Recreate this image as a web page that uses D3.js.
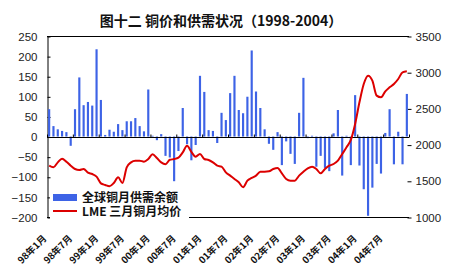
<!DOCTYPE html>
<html>
<head>
<meta charset="utf-8">
<script src="https://cdn.jsdelivr.net/npm/d3@7"></script>
<style>
  body { margin: 0; background: #fff; }
  svg { display: block; }
</style>
</head>
<body>
<svg id="chart" width="450" height="274"></svg>
<script>
// monthly data, Jan 1998 .. Dec 2004
var supplyBalance = [68, 26, 18, 14, 11, -23, 68, 147, 78, 86, 77, 217,
                     91, 4, 17, 12, 31, 16, 38, 38, 46, 26, 13, 117,
                     2, -9, 6, -48, -52, -111, -36, 71, -19, -59, -21, 151,
                     111, 16, 14, -16, 59, 41, 108, 151, 66, 58, 99, 214,
                     112, 71, 18, -18, -33, 11, -71, -12, -43, -68, 59, 146,
                     -4, 2, -75, -48, -78, -86, 8, 66, -97, 2, -71, 103,
                     -72, -131, -197, -127, -68, -92, 9, 68, -69, 12, -69, 106];
var lmePrice = [1709, 1686, 1755, 1805, 1764, 1709, 1663, 1649, 1663, 1612, 1594, 1557,
                1465, 1442, 1425, 1470, 1548, 1470, 1686, 1755, 1778, 1778, 1764, 1801,
                1866, 1815, 1755, 1730, 1790, 1800, 1820, 1893, 1985, 1900, 1833, 1870,
                1801, 1787, 1755, 1709, 1695, 1617, 1571, 1525, 1479, 1410, 1502, 1539,
                1571, 1626, 1626, 1631, 1663, 1677, 1603, 1525, 1502, 1502, 1571, 1626,
                1672, 1695, 1663, 1603, 1663, 1709, 1732, 1778, 1870, 1962, 2064, 2285,
                2584, 2837, 2952, 2883, 2676, 2653, 2736, 2791, 2837, 2906, 2998, 3012];
var monthLabels = ["98年1月", "98年7月", "99年1月", "99年7月", "00年1月", "00年7月", "01年1月",
                   "01年7月", "02年1月", "02年7月", "03年1月", "03年7月", "04年1月", "04年7月"];
var leftTicks = [250, 200, 150, 100, 50, 0, -50, -100, -150, -200];
var rightTicks = [3500, 3000, 2500, 2000, 1500, 1000];
var titleText = "图十二 铜价和供需状况（1998-2004）";
var legendNames = ["全球铜月供需余额", "LME 三月铜月均价"];

var svg = d3.select("svg#chart");

var plotLeft = 47, plotRight = 409, plotTop = 36, plotBottom = 217;
var barColor = "#3d63e6", lineColor = "#dc0000";
var tickFont = "'Liberation Sans', Arial, sans-serif";
var cjkFont = "'Noto Sans CJK SC', sans-serif";

var months = d3.range(supplyBalance.length);

var x = d3.scaleBand()
    .domain(months)
    .range([plotLeft, plotRight])
    .paddingInner(0.5)
    .paddingOuter(0.25);

var yLeft = d3.scaleLinear().domain([-200, 250]).range([plotBottom, plotTop]);
var yRight = d3.scaleLinear().domain([1000, 3500]).range([plotBottom, plotTop]);

function cx(i) { return x(i) + x.bandwidth() / 2; }

// title
svg.append("text")
    .attr("x", 221)
    .attr("y", 26)
    .attr("text-anchor", "middle")
    .attr("font-family", cjkFont)
    .attr("font-weight", "bold")
    .attr("font-size", "14px")
    .attr("fill", "#111")
    .text(titleText);

// frame lines (top / bottom)
svg.append("line").attr("x1", plotLeft).attr("x2", plotRight).attr("y1", plotTop + 0.5).attr("y2", plotTop + 0.5)
    .attr("stroke", "#000").attr("stroke-width", 1);
svg.append("line").attr("x1", plotLeft).attr("x2", plotRight).attr("y1", plotBottom + 0.5).attr("y2", plotBottom + 0.5)
    .attr("stroke", "#000").attr("stroke-width", 1);

// left axis
var leftAxis = d3.axisLeft(yLeft).tickValues(leftTicks).tickSizeInner(-3).tickSizeOuter(0).tickPadding(10);
var gLeft = svg.append("g")
    .attr("transform", "translate(" + (plotLeft + 0.5) + ",0.5)")
    .call(leftAxis);
gLeft.select(".domain").attr("stroke", "#000");
gLeft.selectAll("text")
    .attr("font-family", tickFont)
    .attr("font-size", "11.5px")
    .attr("fill", "#222");

// right axis (ticks only)
var rightAxis = d3.axisRight(yRight).tickValues(rightTicks).tickFormat(d3.format("d"))
    .tickSizeInner(4).tickSizeOuter(0).tickPadding(4);
var gRight = svg.append("g")
    .attr("transform", "translate(" + (plotRight + 0.5 - 2) + ",0.5)")
    .call(rightAxis);
gRight.select(".domain").remove();
gRight.selectAll("text")
    .attr("font-family", tickFont)
    .attr("font-size", "11.5px")
    .attr("fill", "#222");

// bars
svg.append("g")
    .attr("class", "bars")
    .selectAll("rect")
    .data(supplyBalance)
    .enter().append("rect")
    .attr("x", function(d, i) { return x(i); })
    .attr("y", function(d) { return yLeft(Math.max(0, d)); })
    .attr("width", x.bandwidth())
    .attr("height", function(d) { return Math.abs(yLeft(d) - yLeft(0)); })
    .attr("fill", barColor);

// category axis on zero line
var zeroY = Math.round(yLeft(0)) + 0.5;
svg.append("line").attr("x1", plotLeft).attr("x2", plotRight).attr("y1", zeroY).attr("y2", zeroY)
    .attr("stroke", "#000").attr("stroke-width", 1);
var step = x.step();
svg.append("g")
    .selectAll("line")
    .data(d3.range(0, supplyBalance.length + 1, 6))
    .enter().append("line")
    .attr("x1", function(d) { return plotLeft + d * step + 0.5; })
    .attr("x2", function(d) { return plotLeft + d * step + 0.5; })
    .attr("y1", zeroY - 3)
    .attr("y2", zeroY)
    .attr("stroke", "#000");

// price line
var line = d3.line()
    .x(function(d, i) { return cx(i); })
    .y(function(d) { return yRight(d); })
    .curve(d3.curveMonotoneX);
svg.append("path")
    .datum(lmePrice)
    .attr("d", line)
    .attr("fill", "none")
    .attr("stroke", lineColor)
    .attr("stroke-width", 2)
    .attr("stroke-linejoin", "round");

// x labels, every six months
svg.append("g")
    .selectAll("text")
    .data(monthLabels)
    .enter().append("text")
    .attr("transform", function(d, k) {
      return "translate(" + (cx(k * 6) - 2) + ",239) rotate(-45)";
    })
    .attr("text-anchor", "end")
    .attr("font-family", cjkFont)
    .attr("font-weight", "bold")
    .attr("font-size", "9.5px")
    .attr("fill", "#111")
    .text(function(d) { return d; });

// legend
var legend = svg.append("g");
legend.append("rect").attr("x", 50).attr("y", 188).attr("width", 139).attr("height", 33).attr("fill", "#fff");
legend.append("rect").attr("x", 53).attr("y", 194).attr("width", 24).attr("height", 7).attr("fill", barColor);
legend.append("line").attr("x1", 53).attr("x2", 77).attr("y1", 211).attr("y2", 211)
    .attr("stroke", lineColor).attr("stroke-width", 2);
legend.selectAll("text.name")
    .data(legendNames)
    .enter().append("text")
    .attr("class", "name")
    .attr("x", 82)
    .attr("y", function(d, i) { return 202 + i * 14; })
    .attr("font-family", cjkFont)
    .attr("font-weight", "bold")
    .attr("font-size", "12px")
    .attr("fill", "#111")
    .text(function(d) { return d; });
</script>
</body>
</html>
